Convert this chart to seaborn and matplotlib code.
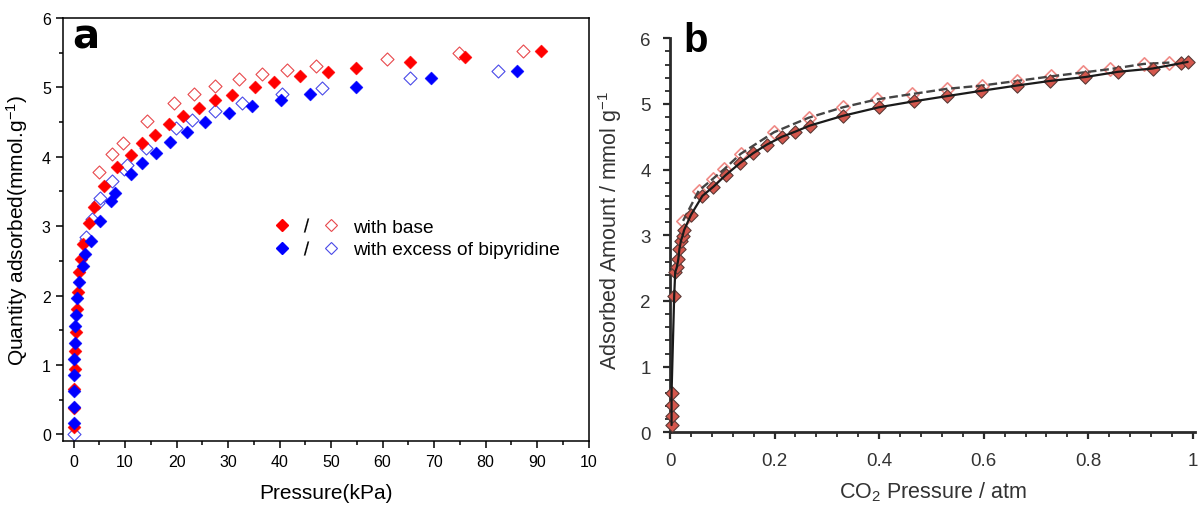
import matplotlib
matplotlib.use("Agg")
import matplotlib.pyplot as plt
import seaborn as sns
from matplotlib.lines import Line2D
from matplotlib.legend_handler import HandlerTuple

# ---------------- Panel a data (Pressure kPa, mmol/g) ----------------
base_filled_x = [0.1, 0.15, 0.15, 0.2, 0.3, 0.45, 0.6, 0.8, 1.1, 1.4, 1.85, 2.9, 3.9, 5.9, 8.5,
                 11.1, 13.3, 15.8, 18.5, 21.3, 24.3, 27.5, 30.7, 35.3, 39.0, 44.0, 49.4, 54.9,
                 65.3, 76.1, 90.8]
base_filled_y = [0.10, 0.38, 0.65, 0.94, 1.20, 1.47, 1.80, 2.05, 2.34, 2.53, 2.74, 3.04, 3.28, 3.58,
                 3.85, 4.03, 4.20, 4.31, 4.47, 4.59, 4.71, 4.82, 4.89, 5.01, 5.08, 5.16, 5.22, 5.28,
                 5.37, 5.44, 5.52]
base_open_x = [4.9, 7.5, 9.5, 14.2, 19.5, 23.4, 27.5, 32.1, 36.6, 41.4, 47.0, 60.8, 74.8, 87.3]
base_open_y = [3.78, 4.04, 4.20, 4.51, 4.77, 4.91, 5.02, 5.12, 5.19, 5.25, 5.31, 5.41, 5.49, 5.53]

bipy_filled_x = [0.0, 0.0, 0.0, 0.0, 0.08, 0.21, 0.34, 0.47, 0.6, 1.11, 1.76, 2.2, 3.4, 5.2, 7.2,
                 8.1, 11.1, 13.3, 15.96, 18.8, 22.0, 25.6, 30.2, 34.7, 40.3, 46.0, 54.9, 69.4, 86.1]
bipy_filled_y = [0.16, 0.39, 0.62, 0.85, 1.09, 1.32, 1.56, 1.72, 1.96, 2.19, 2.43, 2.60, 2.78, 3.07,
                 3.37, 3.48, 3.75, 3.91, 4.06, 4.22, 4.36, 4.50, 4.63, 4.73, 4.82, 4.91, 5.01, 5.14,
                 5.24]
bipy_open_x = [0.0, 2.4, 2.5, 3.6, 4.8, 5.1, 7.5, 9.7, 10.3, 14.0, 19.8, 22.9, 27.5, 32.7, 40.5,
               48.2, 65.4, 82.5]
bipy_open_y = [0.0, 2.80, 2.85, 3.11, 3.34, 3.40, 3.65, 3.82, 3.88, 4.13, 4.41, 4.53, 4.66, 4.77,
               4.90, 4.99, 5.14, 5.23]

a_xticks = [0, 10, 20, 30, 40, 50, 60, 70, 80, 90, 100]
a_xticklabels = ["0", "10", "20", "30", "40", "50", "60", "70", "80", "90", "10"]
a_yticks = [0, 1, 2, 3, 4, 5, 6]
legend_labels = ["with base", "with excess of bipyridine"]

# ---------------- Panel b data (CO2 pressure atm, mmol/g) ----------------
b_filled_x = [0.003, 0.003, 0.003, 0.003, 0.008, 0.010, 0.013, 0.016, 0.018, 0.021, 0.024, 0.027,
              0.040, 0.062, 0.083, 0.107, 0.134, 0.159, 0.185, 0.214, 0.240, 0.267, 0.331, 0.400,
              0.466, 0.530, 0.595, 0.663, 0.726, 0.794, 0.857, 0.923, 0.977, 0.990]
b_filled_y = [0.11, 0.25, 0.42, 0.60, 2.08, 2.44, 2.51, 2.64, 2.79, 2.92, 2.99, 3.08,
              3.31, 3.60, 3.74, 3.92, 4.10, 4.25, 4.38, 4.50, 4.58, 4.67, 4.82, 4.95,
              5.04, 5.12, 5.20, 5.28, 5.35, 5.41, 5.49, 5.54, 5.62, 5.64]
b_open_x = [0.025, 0.055, 0.082, 0.104, 0.135, 0.199, 0.265, 0.331, 0.396, 0.462, 0.529, 0.596,
            0.663, 0.728, 0.790, 0.841, 0.906, 0.955]
b_open_y = [3.22, 3.68, 3.86, 4.01, 4.24, 4.57, 4.79, 4.95, 5.07, 5.15, 5.23, 5.28,
            5.35, 5.42, 5.48, 5.53, 5.61, 5.63]

b_xticks = [0, 0.2, 0.4, 0.6, 0.8, 1.0]
b_xticklabels = ["0", "0.2", "0.4", "0.6", "0.8", "1"]
b_yticks = [0, 1, 2, 3, 4, 5, 6]

# ---------------- Style ----------------
sns.set_style("ticks")
plt.rcParams["font.family"] = ["Liberation Sans", "DejaVu Sans"]
plt.rcParams["mathtext.fontset"] = "custom"
plt.rcParams["mathtext.rm"] = "Liberation Sans"
plt.rcParams["mathtext.it"] = "Liberation Sans:italic"
plt.rcParams["text.color"] = "black"

W, H = 1201, 510
fig = plt.figure(figsize=(W / 100, H / 100), dpi=100)

def px_axes(l, t, r, b):
    return [l / W, 1 - b / H, (r - l) / W, (b - t) / H]

axa = fig.add_axes(px_axes(63.3, 19, 588.5, 442.3))
axb = fig.add_axes(px_axes(670, 39.3, 1195, 433.3))

RED = "#ff0000"
BLUE = "#0000ff"
RED_O = "#e8484c"
BLUE_O = "#4a4ae8"
ms_a = 44

# ---- Panel a ----
sns.scatterplot(x=base_open_x, y=base_open_y, ax=axa, marker="D", s=ms_a, color=RED_O,
                facecolors="white", edgecolor=RED_O, linewidth=0.8, legend=False, zorder=2)
sns.scatterplot(x=bipy_open_x, y=bipy_open_y, ax=axa, marker="D", s=ms_a, color=BLUE_O,
                facecolors="white", edgecolor=BLUE_O, linewidth=0.8, legend=False, zorder=2)
sns.scatterplot(x=base_filled_x, y=base_filled_y, ax=axa, marker="D", s=ms_a, color=RED,
                edgecolor=RED, linewidth=0.3, legend=False, zorder=3)
sns.scatterplot(x=bipy_filled_x, y=bipy_filled_y, ax=axa, marker="D", s=ms_a, color=BLUE,
                edgecolor=BLUE, linewidth=0.3, legend=False, zorder=4)

axa.set_xlim(-2, 100)
axa.set_ylim(-0.1, 6)
axa.set_xticks(a_xticks)
axa.set_xticklabels(a_xticklabels)
axa.set_yticks(a_yticks)
axa.set_xticks([5, 15, 25, 35, 45, 55, 65, 75, 85, 95], minor=True)
axa.set_yticks([0.5, 1.5, 2.5, 3.5, 4.5, 5.5], minor=True)
for s in axa.spines.values():
    s.set_visible(True)
    s.set_linewidth(1.1)
    s.set_color("black")
axa.tick_params(which="major", direction="out", length=5, width=1.1, labelsize=11.5, pad=4,
                colors="black", top=False, right=False)
axa.tick_params(which="minor", direction="out", length=3, width=1.1, colors="black",
                top=False, right=False)
axa.set_xlabel("Pressure(kPa)", fontsize=15, color="black")
axa.set_ylabel("Quantity adsorbed(mmol.g$^{-1}$)", fontsize=15, color="black")
axa.xaxis.set_label_coords(0.5, -0.098)
axa.yaxis.set_label_coords(-0.064, 0.5)
axa.text(0.0166, 0.931, "a", transform=axa.transAxes, fontsize=29, fontweight="bold",
         family="DejaVu Sans", va="baseline", ha="left", color="black")

# legend
h_rf = Line2D([], [], ls="", marker="D", ms=6.6, mfc=RED, mec=RED)
h_ro = Line2D([], [], ls="", marker="D", ms=6.2, mfc="white", mec=RED_O, mew=0.8)
h_bf = Line2D([], [], ls="", marker="D", ms=6.6, mfc=BLUE, mec=BLUE)
h_bo = Line2D([], [], ls="", marker="D", ms=6.2, mfc="white", mec=BLUE_O, mew=0.8)
h_sl = Line2D([], [], ls="", marker="$/$", ms=10, mfc="black", mec="black", mew=0.1)
leg = axa.legend(handles=[(h_rf, h_sl, h_ro), (h_bf, h_sl, h_bo)], labels=legend_labels,
                 handler_map={tuple: HandlerTuple(ndivide=None, pad=0)},
                 loc="center left", bbox_to_anchor=(0.392, 0.4793), frameon=False,
                 borderpad=0, borderaxespad=0, handlelength=3.86, handletextpad=0.5,
                 labelspacing=0.25, fontsize=13.8, labelcolor="black")

# ---- Panel b ----
B_FILL = "#d4574d"
B_EDGE = "#5a3a36"
B_OPEN = "#f08a86"
sns.scatterplot(x=b_open_x, y=b_open_y, ax=axb, marker="D", s=46, color=B_OPEN,
                facecolors="white", edgecolor=B_OPEN, linewidth=1.2, legend=False, zorder=2,
                clip_on=False)
sns.lineplot(x=b_open_x, y=b_open_y, ax=axb, color="#444444", linewidth=1.7, linestyle="--",
             dashes=(3, 1.6), estimator=None, sort=True, zorder=3)
sns.scatterplot(x=b_filled_x, y=b_filled_y, ax=axb, marker="D", s=46, color=B_FILL,
                edgecolor=B_EDGE, linewidth=0.8, legend=False, zorder=4, clip_on=False)
sns.lineplot(x=b_filled_x, y=b_filled_y, ax=axb, color="#1a1a1a", linewidth=1.6,
             estimator=None, sort=False, zorder=5)

axb.set_xlim(0, 1.004)
axb.set_ylim(0, 6)
axb.set_xticks(b_xticks)
axb.set_xticklabels(b_xticklabels)
axb.set_yticks(b_yticks)
axb.set_xticks([i * 0.04 for i in range(26) if i % 5 != 0], minor=True)
axb.set_yticks([i * 0.2 for i in range(31) if i % 5 != 0], minor=True)
sns.despine(ax=axb)
for side in ("left", "bottom"):
    axb.spines[side].set_linewidth(2.0)
    axb.spines[side].set_color("#2a2a2a")
GRAY = "#333333"
axb.tick_params(which="major", direction="out", length=5, width=1.6, labelsize=13.5, pad=9,
                colors="#2a2a2a", labelcolor=GRAY)
axb.tick_params(which="minor", direction="out", length=3.5, width=1.3, colors="#2a2a2a")
axb.set_xlabel("CO$_2$ Pressure / atm", fontsize=15.5, color=GRAY)
axb.set_ylabel("Adsorbed Amount / mmol g$^{-1}$", fontsize=15.5, color=GRAY)
axb.xaxis.set_label_coords(0.5, -0.12)
axb.yaxis.set_label_coords(-0.088, 0.515)
fig.text(683 / W, 1 - 52 / H, "b", fontsize=29, fontweight="bold", va="baseline", ha="left",
         color="black")

fig.savefig("out.png", dpi=100)
